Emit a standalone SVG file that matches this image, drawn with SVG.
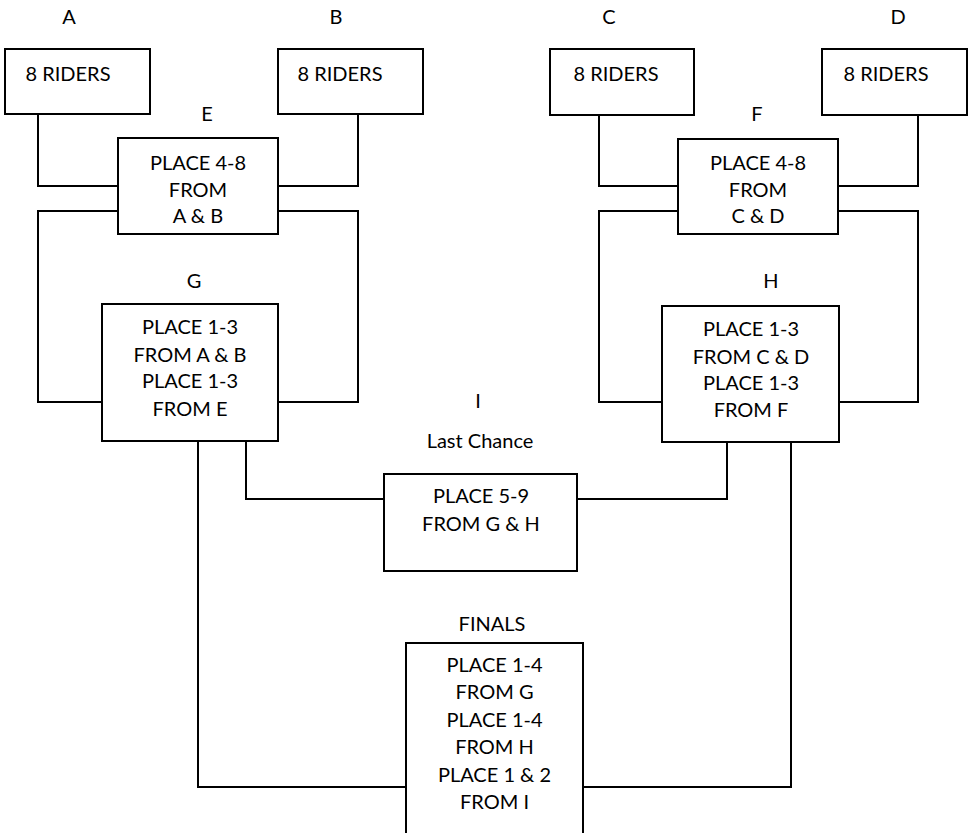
<svg xmlns="http://www.w3.org/2000/svg" width="973" height="833" viewBox="0 0 973 833">
<style>
rect.box{fill:#fff;stroke:#000;stroke-width:2}
.conn path{fill:none;stroke:#000;stroke-width:2}
text{font-family:Lato,"Liberation Sans",sans-serif;font-size:20px;fill:#000;text-anchor:middle}
</style>
<rect width="973" height="833" fill="#fff"/>
<g class="conn" id="connectors">
<path d="M38,114 V186 H118"/>
<path d="M358,114 V186 H278"/>
<path d="M118,211 H38 V402 H102"/>
<path d="M278,211 H358 V402 H278"/>
<path d="M599,115 V186 H678"/>
<path d="M918,115 V186 H838"/>
<path d="M678,211 H599 V402 H662"/>
<path d="M838,211 H918 V402 H839"/>
<path d="M246,441 V499 H384"/>
<path d="M727,442 V499 H577"/>
<path d="M198,441 V787 H406"/>
<path d="M791,442 V787 H583"/>
</g>
<g id="A">
<text x="69" y="24">A</text>
<rect class="box" x="5" y="49" width="145" height="65"/>
<text x="68" y="81">8 RIDERS</text>
</g>
<g id="B">
<text x="336" y="24">B</text>
<rect class="box" x="278" y="49" width="145" height="65"/>
<text x="340" y="81">8 RIDERS</text>
</g>
<g id="C">
<text x="609" y="24">C</text>
<rect class="box" x="550" y="49" width="144" height="66"/>
<text x="616" y="81">8 RIDERS</text>
</g>
<g id="D">
<text x="898" y="24">D</text>
<rect class="box" x="822" y="49" width="145" height="66"/>
<text x="886" y="81">8 RIDERS</text>
</g>
<g id="E">
<text x="207" y="121">E</text>
<rect class="box" x="118" y="138" width="160" height="96"/>
<text x="198" y="170">PLACE 4-8</text>
<text x="198" y="197">FROM</text>
<text x="198" y="223">A &amp; B</text>
</g>
<g id="F">
<text x="757" y="121">F</text>
<rect class="box" x="678" y="139" width="160" height="95"/>
<text x="758" y="170">PLACE 4-8</text>
<text x="758" y="197">FROM</text>
<text x="758" y="223">C &amp; D</text>
</g>
<g id="G">
<text x="194" y="288">G</text>
<rect class="box" x="102" y="304" width="176" height="137"/>
<text x="190" y="334">PLACE 1-3</text>
<text x="190" y="362">FROM A &amp; B</text>
<text x="190" y="388">PLACE 1-3</text>
<text x="190" y="416">FROM E</text>
</g>
<g id="H">
<text x="771" y="288">H</text>
<rect class="box" x="662" y="306" width="177" height="136"/>
<text x="751" y="336">PLACE 1-3</text>
<text x="751" y="364">FROM C &amp; D</text>
<text x="751" y="390">PLACE 1-3</text>
<text x="751" y="417">FROM F</text>
</g>
<g id="I">
<text x="478" y="408">I</text>
<text x="480" y="448">Last Chance</text>
<rect class="box" x="384" y="474" width="193" height="97"/>
<text x="481" y="503">PLACE 5-9</text>
<text x="481" y="531">FROM G &amp; H</text>
</g>
<g id="FINALS">
<text x="492" y="631">FINALS</text>
<rect class="box" x="406" y="643" width="177" height="200"/>
<text x="494.5" y="672">PLACE 1-4</text>
<text x="494.5" y="699">FROM G</text>
<text x="494.5" y="727">PLACE 1-4</text>
<text x="494.5" y="754">FROM H</text>
<text x="494.5" y="782">PLACE 1 &amp; 2</text>
<text x="494.5" y="809">FROM I</text>
</g>
</svg>
